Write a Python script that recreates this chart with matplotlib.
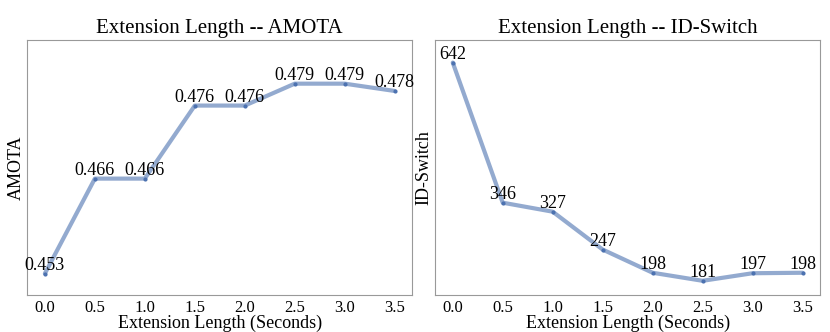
import matplotlib
matplotlib.use("Agg")
import matplotlib.pyplot as plt
import seaborn as sns

sns.set_style("white")
plt.rcParams['font.family'] = ['Liberation Serif', 'DejaVu Serif']
plt.rcParams['text.color'] = 'black'
plt.rcParams['axes.labelcolor'] = 'black'
plt.rcParams['xtick.color'] = 'black'

ext_len = [0.0, 0.5, 1.0, 1.5, 2.0, 2.5, 3.0, 3.5]
amota = [0.453, 0.466, 0.466, 0.476, 0.476, 0.479, 0.479, 0.478]
idsw = [642, 346, 327, 247, 198, 181, 197, 198]

fig, axes = plt.subplots(1, 2, figsize=(8.3, 3.32), dpi=100)

panels = [
    (axes[0], amota, "AMOTA", (0.45, 0.485), "{:.3f}"),
    (axes[1], idsw, "ID-Switch", (150, 690), "{:d}"),
]
for ax, vals, name, ylim, fmt in panels:
    ax.plot(ext_len, vals, color="#4c72b0", alpha=0.6, lw=3)
    ax.plot(ext_len, vals, ".", color="#4c72b0", ms=4)
    for x, y in zip(ext_len, vals):
        ax.text(x, y, fmt.format(y), ha="center", va="bottom", fontsize=13)
    ax.set_ylim(*ylim)
    ax.set_yticks([])
    ax.set_xticks(ext_len)
    ax.tick_params(axis="x", labelsize=12, length=0, pad=3)
    ax.set_title("Extension Length -- " + name, fontsize=15, pad=5)
    ax.set_xlabel("Extension Length (Seconds)", fontsize=13, labelpad=-1)
    ax.set_ylabel(name, fontsize=13, labelpad=2)
    for s in ax.spines.values():
        s.set_color("#999999")

fig.subplots_adjust(left=0.033, right=0.988, top=0.88, bottom=0.11, wspace=0.06)
fig.savefig("out.png")
